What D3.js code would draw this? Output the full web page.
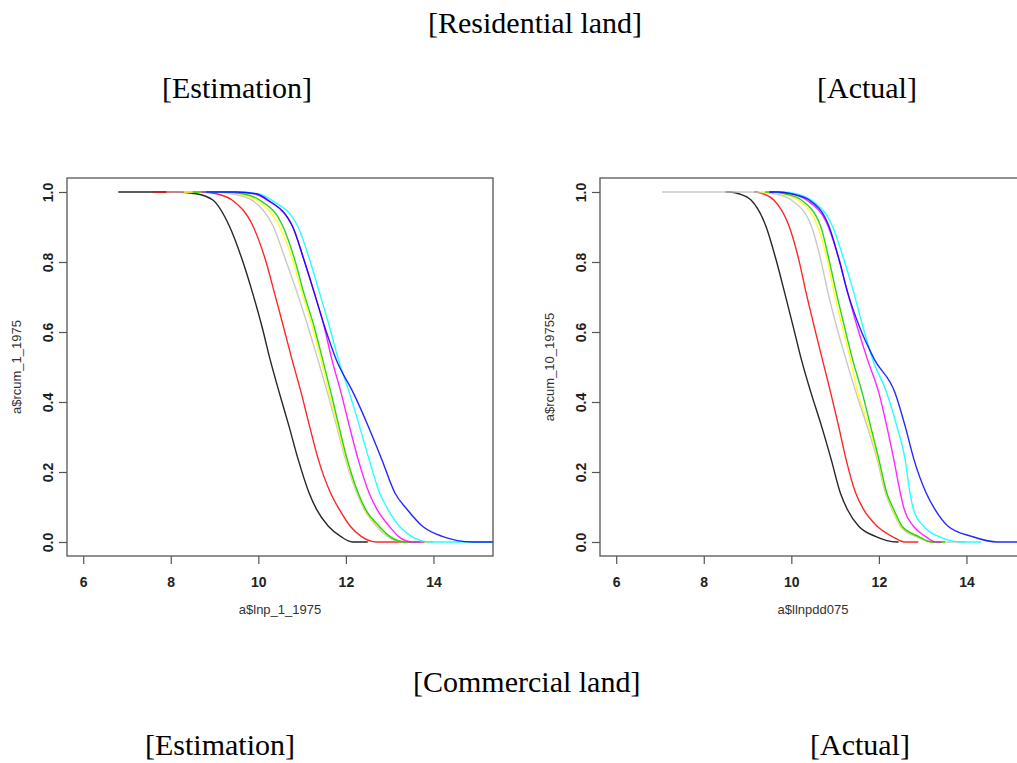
<!DOCTYPE html>
<html>
<head>
<meta charset="utf-8">
<script src="https://cdn.jsdelivr.net/npm/d3@7"></script>
<style>
  body { margin: 0; background: #fff; }
  svg { display: block; }
</style>
</head>
<body>
<div id="canvas"></div>
<script>
"use strict"

// y levels shared by every curve (two 1s = start / shoulder, two 0s = reach zero / end of line)
const yLevels = [1, 1, 0.995, 0.977, 0.902, 0.807, 0.711, 0.617, 0.521, 0.426, 0.331, 0.236, 0.140, 0.093, 0.045, 0.016, 0, 0];

// series order as drawn, with R palette colours
const seriesNames = ["black", "red", "gray", "yellow", "green", "magenta", "cyan", "blue"];
const seriesColors = ["#000000", "#ff0000", "#bebebe", "#ffff00", "#00cd00", "#ff00ff", "#00ffff", "#0000ff"];

// [Estimation] panel: x (log land price) at each y level
const estBlack   = [6.8, 8.1, 8.58, 8.96, 9.34, 9.63, 9.87, 10.08, 10.27, 10.48, 10.70, 10.91, 11.16, 11.33, 11.60, 11.88, 12.15, 12.5];
const estRed     = [7.6, 8.7, 9.04, 9.40, 9.88, 10.16, 10.37, 10.57, 10.77, 10.98, 11.17, 11.37, 11.65, 11.85, 12.10, 12.35, 12.7, 13.45];
const estGray    = [7.9, 9.0, 9.40, 9.85, 10.34, 10.62, 10.89, 11.13, 11.36, 11.58, 11.79, 11.99, 12.25, 12.42, 12.70, 12.95, 13.3, 14.0];
const estYellow  = [8.3, 9.1, 9.55, 9.95, 10.48, 10.78, 11.00, 11.23, 11.43, 11.62, 11.81, 12.01, 12.27, 12.44, 12.74, 13.0, 13.4, 13.9];
const estGreen   = [8.5, 9.2, 9.65, 10.03, 10.56, 10.83, 11.04, 11.27, 11.47, 11.66, 11.84, 12.03, 12.28, 12.45, 12.76, 13.0, 13.35, 13.7];
const estMagenta = [8.7, 9.4, 9.90, 10.20, 10.78, 11.04, 11.28, 11.50, 11.68, 11.89, 12.08, 12.28, 12.53, 12.71, 12.99, 13.2, 13.5, 13.8];
const estCyan    = [8.8, 9.5, 10.0, 10.30, 10.90, 11.17, 11.40, 11.62, 11.83, 12.08, 12.31, 12.53, 12.77, 12.96, 13.22, 13.5, 13.9, 15.5];
const estBlue    = [8.8, 9.5, 9.95, 10.22, 10.78, 11.04, 11.28, 11.51, 11.78, 12.17, 12.51, 12.82, 13.12, 13.40, 13.75, 14.2, 14.9, 15.5];

// [Actual] panel
const actBlack   = [8.5, 8.6, 8.80, 9.08, 9.42, 9.65, 9.85, 10.04, 10.23, 10.45, 10.69, 10.91, 11.12, 11.28, 11.54, 11.92, 12.41, 12.45];
const actRed     = [9.15, 9.2, 9.35, 9.60, 9.95, 10.17, 10.34, 10.52, 10.71, 10.90, 11.08, 11.25, 11.47, 11.65, 11.96, 12.30, 12.6, 12.9];
const actGray    = [7.05, 9.0, 9.60, 10.0, 10.46, 10.67, 10.84, 11.03, 11.25, 11.48, 11.73, 11.96, 12.15, 12.30, 12.49, 12.83, 13.3, 13.96];
const actYellow  = [9.3, 9.5, 9.78, 10.15, 10.60, 10.82, 10.98, 11.16, 11.35, 11.52, 11.77, 11.98, 12.17, 12.32, 12.51, 12.89, 13.2, 13.5];
const actGreen   = [9.4, 9.6, 9.86, 10.23, 10.67, 10.86, 11.03, 11.21, 11.40, 11.62, 11.81, 12.00, 12.18, 12.34, 12.53, 12.90, 13.2, 13.51];
const actMagenta = [9.5, 9.7, 10.0, 10.35, 10.84, 11.09, 11.29, 11.50, 11.74, 12.00, 12.18, 12.34, 12.49, 12.58, 12.79, 13.06, 13.3, 13.43];
const actCyan    = [9.6, 9.8, 10.1, 10.45, 10.94, 11.20, 11.43, 11.63, 11.86, 12.18, 12.41, 12.60, 12.71, 12.79, 13.02, 13.36, 13.9, 14.34];
const actBlue    = [9.5, 9.7, 10.0, 10.41, 10.86, 11.09, 11.29, 11.55, 11.90, 12.37, 12.60, 12.80, 13.08, 13.28, 13.58, 14.12, 14.7, 15.6];

const xTicks = [6, 8, 10, 12, 14];
const yTicks = [0, 0.2, 0.4, 0.6, 0.8, 1.0];

let drawing = d3.select("#canvas")
    .append("svg")
    .attr("width", 1017)
    .attr("height", 763);

// headings
const serif = "'Liberation Serif', 'Times New Roman', serif";
function heading(txt, x, y) {
    drawing.append("text")
        .attr("x", x)
        .attr("y", y)
        .attr("font-family", serif)
        .attr("font-size", 30)
        .attr("fill", "#000")
        .text(txt);
}
heading("[Residential land]", 428, 33);
heading("[Estimation]", 162, 98);
heading("[Actual]", 817, 98);
heading("[Commercial land]", 413, 692);
heading("[Estimation]", 145, 755);
heading("[Actual]", 810, 755);

const narrow = "'Liberation Sans Narrow', 'Arial Narrow', 'Liberation Sans', sans-serif";

function drawPanel(id, left, seriesX, yTitle, xTitle, xTitleX) {
    let top = 178, bottom = 556, right = left + 426;

    let x = d3.scaleLinear().domain([5.63, 15.36]).range([left, right]);
    let y = d3.scaleLinear().domain([-0.04, 1.04]).range([bottom, top]);

    drawing.append("clipPath")
        .attr("id", "clip" + id)
        .append("rect")
        .attr("x", left)
        .attr("y", top)
        .attr("width", right - left)
        .attr("height", bottom - top);

    let line = d3.line()
        .x(d => x(d[0]))
        .y(d => y(d[1]))
        .curve(d3.curveMonotoneX);

    let g = drawing.append("g").attr("clip-path", "url(#clip" + id + ")");
    seriesX.forEach((xs, i) => {
        let pts = xs.map((v, k) => [v, yLevels[k]]);
        g.append("path")
            .attr("d", line(pts))
            .attr("fill", "none")
            .attr("stroke", seriesColors[i])
            .attr("stroke-width", 1.4)
            .attr("stroke-opacity", 0.85);
    });

    // box
    drawing.append("rect")
        .attr("x", left)
        .attr("y", top)
        .attr("width", right - left)
        .attr("height", bottom - top)
        .attr("fill", "none")
        .attr("stroke", "#555")
        .attr("stroke-width", 1.3);

    let xAxis = drawing.append("g")
        .attr("transform", "translate(0," + bottom + ")")
        .call(d3.axisBottom(x).tickValues(xTicks).tickSize(8).tickPadding(13).tickFormat(d3.format("d")));
    xAxis.select(".domain").remove();
    xAxis.selectAll("line").attr("stroke", "#555").attr("stroke-width", 1.2);
    xAxis.selectAll("text")
        .attr("font-family", narrow)
        .attr("font-weight", "bold")
        .attr("font-size", 14)
        .attr("fill", "#222");

    let yAxis = drawing.append("g")
        .attr("transform", "translate(" + left + ",0)")
        .call(d3.axisLeft(y).tickValues(yTicks).tickSize(8).tickFormat(d3.format(".1f")));
    yAxis.select(".domain").remove();
    yAxis.selectAll("line").attr("stroke", "#555").attr("stroke-width", 1.2);
    yAxis.selectAll("text")
        .attr("x", null)
        .attr("dy", null)
        .attr("text-anchor", "middle")
        .attr("transform", "translate(-14,0) rotate(-90)")
        .attr("font-family", narrow)
        .attr("font-weight", "bold")
        .attr("font-size", 14)
        .attr("fill", "#222");

    drawing.append("text")
        .attr("transform", "translate(" + (left - 46) + "," + 367 + ") rotate(-90)")
        .attr("text-anchor", "middle")
        .attr("font-family", narrow)
        .attr("font-size", 13)
        .attr("fill", "#333")
        .text(yTitle);
    drawing.append("text")
        .attr("x", xTitleX)
        .attr("y", 614)
        .attr("text-anchor", "middle")
        .attr("font-family", narrow)
        .attr("font-size", 13)
        .attr("fill", "#333")
        .text(xTitle);
}

drawPanel("est", 67,
    [estBlack, estRed, estGray, estYellow, estGreen, estMagenta, estCyan, estBlue],
    "a$rcum_1_1975", "a$lnp_1_1975", 280);

drawPanel("act", 600,
    [actBlack, actRed, actGray, actYellow, actGreen, actMagenta, actCyan, actBlue],
    "a$rcum_10_19755", "a$llnpdd075", 813);
</script>
</body>
</html>
